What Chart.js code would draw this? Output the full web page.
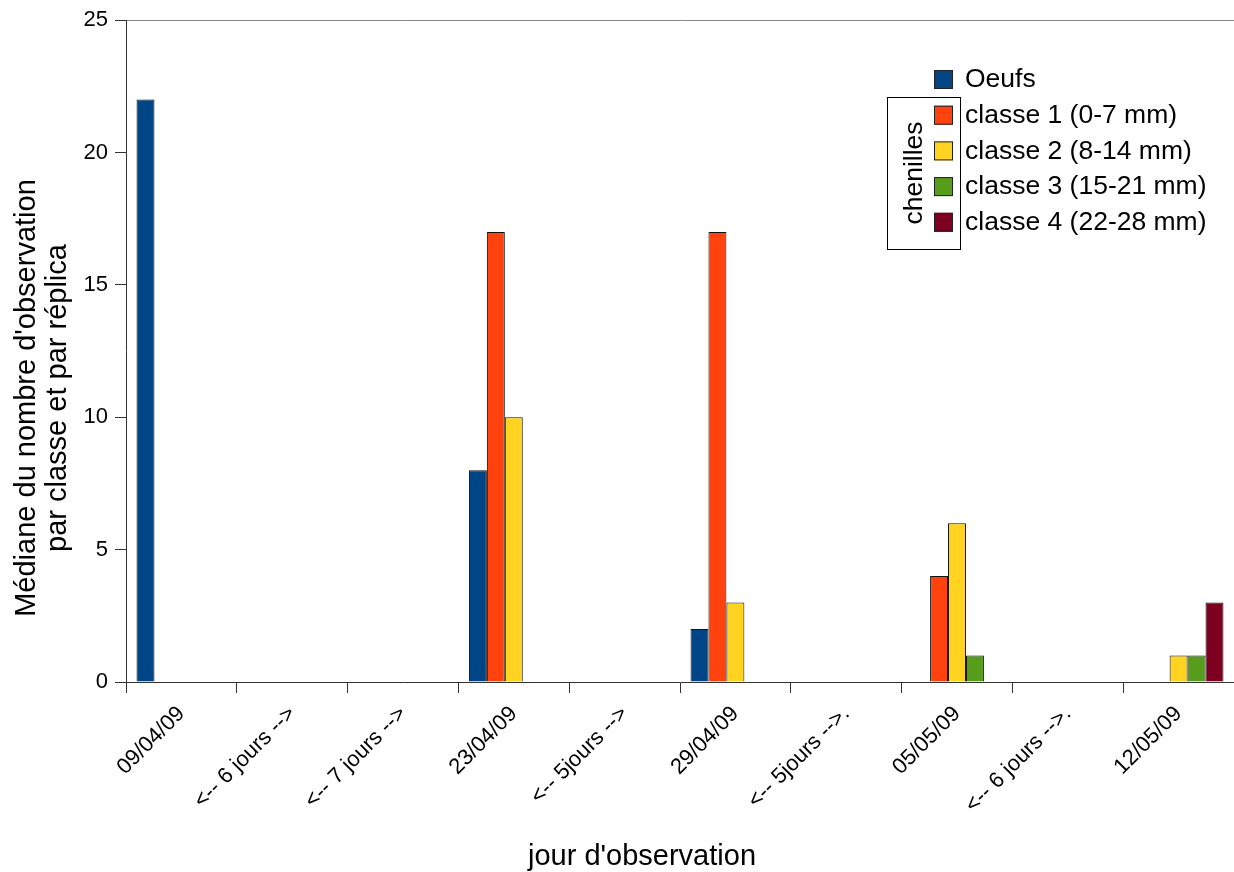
<!DOCTYPE html>
<html lang="fr">
<head>
  <meta charset="UTF-8" />
  <title>Médiane par classe</title>
  <script src="https://cdn.jsdelivr.net/npm/chart.js"></script>
  <style>
    html, body { margin: 0; padding: 0; background: #fff; }
    #wrap { width: 1234px; height: 872px; }
  </style>
</head>
<body>
<div id="wrap"><canvas id="chart" width="1234" height="872"></canvas></div>
<script>
  // categories (observation days and gaps between them)
  const days = ['09/04/09', '<-- 6 jours -->', '<-- 7 jours -->', '23/04/09', '<-- 5jours -->',
                '29/04/09', '<-- 5jours -->.', '05/05/09', '<-- 6 jours -->.', '12/05/09'];

  const seriesNames = ['Oeufs', 'classe 1 (0-7 mm)', 'classe 2 (8-14 mm)', 'classe 3 (15-21 mm)', 'classe 4 (22-28 mm)'];
  const oeufs   = [22, 0, 0, 8, 0, 2, 0, 0, 0, 0];
  const classe1 = [0, 0, 0, 17, 0, 17, 0, 4, 0, 0];
  const classe2 = [0, 0, 0, 10, 0, 3, 0, 6, 0, 1];
  const classe3 = [0, 0, 0, 0, 0, 0, 0, 1, 0, 1];
  const classe4 = [0, 0, 0, 0, 0, 0, 0, 0, 0, 3];
  const colors  = ['#004586', '#ff420e', '#ffd320', '#579d1c', '#7e0021'];

  const yTicks = [0, 5, 10, 15, 20, 25];

  const xTitle = "jour d'observation";
  const yTitle = ["Médiane du nombre d'observation", 'par classe et par réplica'];

  const font = 'Liberation Sans, Arial, sans-serif';

  // legend drawn by hand, with the "chenilles" bracket, plus the axis titles
  const legendPlugin = {
    id: 'sideLegend',
    afterDraw(chart) {
      const c = chart.ctx;
      c.save();
      c.font = '26.5px ' + font;
      c.textBaseline = 'middle';
      chart.data.datasets.forEach((ds, i) => {
        const cy = 79 + i * 35.7;
        c.fillStyle = ds.backgroundColor;
        c.fillRect(934, cy - 9, 19, 19);
        c.strokeStyle = '#222';
        c.lineWidth = 1;
        c.strokeRect(934.5, cy - 8.5, 18, 18);
        c.fillStyle = '#000';
        c.fillText(ds.label, 965, cy + 1);
      });
      c.strokeStyle = '#000';
      c.strokeRect(887.5, 97.5, 73, 152);
      c.save();
      c.translate(915, 173);
      c.rotate(-Math.PI / 2);
      c.textAlign = 'center';
      c.fillText('chenilles', 0, 0);
      c.restore();

      // axis titles
      c.font = '29px ' + font;
      c.textAlign = 'center';
      c.fillText(xTitle, 642, 857);
      c.translate(0, 398);
      c.rotate(-Math.PI / 2);
      c.fillText(yTitle[0], 0, 27);
      c.fillText(yTitle[1], 0, 58);
      c.restore();
    }
  };

  const series = [oeufs, classe1, classe2, classe3, classe4];

  new Chart(document.getElementById('chart'), {
    type: 'bar',
    data: {
      labels: days,
      datasets: series.map((vals, i) => ({
        label: seriesNames[i],
        data: vals,
        backgroundColor: colors[i],
        borderColor: '#111',
        borderWidth: 1,
        borderSkipped: 'bottom',
        categoryPercentage: 0.81,
        barPercentage: 1.0
      }))
    },
    options: {
      responsive: false,
      animation: false,
      layout: { padding: { top: 19, right: 0, left: 0, bottom: 0 } },
      plugins: {
        legend: { display: false },
        tooltip: { enabled: false }
      },
      scales: {
        x: {
          grid: {
            offset: true,
            drawOnChartArea: false,
            drawTicks: true,
            tickLength: 11,
            tickColor: '#333',
            color: '#333'
          },
          border: { color: '#333', width: 1 },
          ticks: {
            color: '#000',
            font: { family: font, size: 22 },
            maxRotation: 45,
            minRotation: 45,
            autoSkip: false,
            padding: 8
          },
          afterFit(scale) { scale.height = 190; }
        },
        y: {
          min: 0,
          max: 25,
          afterBuildTicks(scale) { scale.ticks = yTicks.map(v => ({ value: v })); },
          grid: {
            color: ctx => (ctx.tick && ctx.tick.value === 25) ? '#888' : 'rgba(0,0,0,0)',
            tickColor: '#333',
            tickLength: 11
          },
          border: { color: '#333', width: 1 },
          ticks: {
            color: '#000',
            font: { family: font, size: 22 },
            padding: 7
          },
          afterFit(scale) { scale.width = 126; }
        }
      }
    },
    plugins: [legendPlugin]
  });
</script>
</body>
</html>
